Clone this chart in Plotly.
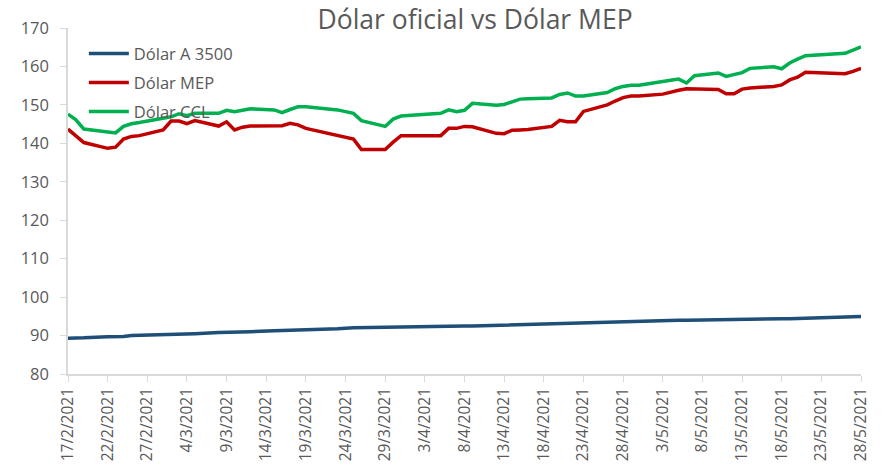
import datetime as dt
import plotly.graph_objects as go

dates = ["2021-02-17","2021-02-18","2021-02-19","2021-02-22","2021-02-23","2021-02-24","2021-02-25","2021-02-26",
         "2021-03-01","2021-03-02","2021-03-03","2021-03-04","2021-03-05","2021-03-08","2021-03-09","2021-03-10",
         "2021-03-11","2021-03-12","2021-03-15","2021-03-16","2021-03-17","2021-03-18","2021-03-19","2021-03-22",
         "2021-03-23","2021-03-25","2021-03-26","2021-03-29","2021-03-30","2021-03-31","2021-04-05","2021-04-06",
         "2021-04-07","2021-04-08","2021-04-09","2021-04-12","2021-04-13","2021-04-14","2021-04-15","2021-04-16",
         "2021-04-19","2021-04-20","2021-04-21","2021-04-22","2021-04-23","2021-04-26","2021-04-27","2021-04-28",
         "2021-04-29","2021-04-30","2021-05-03","2021-05-04","2021-05-05","2021-05-06","2021-05-07","2021-05-10",
         "2021-05-11","2021-05-12","2021-05-13","2021-05-14","2021-05-17","2021-05-18","2021-05-19","2021-05-20",
         "2021-05-21","2021-05-26","2021-05-27","2021-05-28"]

dolar_a3500 = [89.3,89.3,89.4,89.7,89.7,89.75,90.0,90.05,
               90.3,90.4,90.45,90.5,90.5,90.8,90.9,90.95,
               91.0,91.0,91.25,91.3,91.35,91.4,91.65,91.7,
               91.75,92.0,92.05,92.1,92.1,92.15,92.35,92.4,
               92.45,92.5,92.5,92.7,92.75,92.8,92.85,92.9,
               93.1,93.15,93.2,93.25,93.3,93.5,93.55,93.6,
               93.65,93.7,93.9,93.95,94.0,94.0,94.05,94.1,
               94.1,94.15,94.15,94.2,94.35,94.4,94.4,94.45,
               94.45,94.9,94.9,94.95]

dolar_mep = [143.7,141.8,140.2,138.7,139.0,141.1,141.8,142.0,
             143.5,145.8,145.8,145.1,145.9,144.5,145.6,143.5,
             144.2,144.5,144.6,144.6,145.2,144.8,143.9,142.5,
             142.0,141.1,138.4,138.4,140.3,142.0,142.0,143.9,
             143.9,144.4,144.3,142.6,142.5,143.4,143.5,143.6,
             144.4,146.0,145.6,145.6,148.3,150.0,151.0,151.9,
             152.3,152.3,152.8,153.4,153.8,154.2,154.2,154.0,
             152.9,152.9,154.1,154.4,154.8,155.2,156.5,157.2,
             158.5,158.1,158.7,159.5]

dolar_ccl = [147.6,146.1,143.7,142.9,142.7,144.4,145.1,145.4,
             146.5,146.9,147.7,147.2,147.8,147.8,148.6,148.2,
             148.6,149.0,148.7,148.0,148.8,149.5,149.5,149.0,
             148.7,147.8,145.9,144.4,146.3,147.1,147.8,148.7,
             148.2,148.6,150.4,149.9,150.1,150.8,151.5,151.6,
             151.8,152.7,153.1,152.3,152.3,153.2,154.2,154.8,
             155.1,155.1,156.2,156.4,156.7,155.7,157.6,158.3,
             157.4,157.9,158.4,159.5,159.9,159.4,160.9,161.9,
             162.8,163.4,164.3,165.1]

tick_dates = ["2021-02-17","2021-02-22","2021-02-27","2021-03-04","2021-03-09","2021-03-14","2021-03-19",
              "2021-03-24","2021-03-29","2021-04-03","2021-04-08","2021-04-13","2021-04-18","2021-04-23",
              "2021-04-28","2021-05-03","2021-05-08","2021-05-13","2021-05-18","2021-05-23","2021-05-28"]
tick_labels = ["17/2/2021","22/2/2021","27/2/2021","4/3/2021","9/3/2021","14/3/2021","19/3/2021",
               "24/3/2021","29/3/2021","3/4/2021","8/4/2021","13/4/2021","18/4/2021","23/4/2021",
               "28/4/2021","3/5/2021","8/5/2021","13/5/2021","18/5/2021","23/5/2021","28/5/2021"]

series = [("Dólar A 3500", dolar_a3500, "#1F4E79"),
          ("Dólar MEP", dolar_mep, "#C00000"),
          ("Dólar CCL", dolar_ccl, "#00B050")]

fig = go.Figure()
for i, (name, vals, color) in enumerate(series):
    fig.add_trace(go.Scatter(x=dates, y=vals, mode="lines", name=name,
                             legendgroup=f"g{i}",
                             line=dict(color=color, width=3.5)))

grey = "#595959"
axcol = "#D9D9D9"
fig.update_layout(
    width=883, height=473,
    margin=dict(l=68, r=20, t=27.5, b=96),
    paper_bgcolor="white", plot_bgcolor="white",
    font=dict(family="Open Sans, sans-serif", color=grey),
    title=dict(text="Dólar oficial vs Dólar MEP", x=0.538, xanchor="center",
               y=0.958, yanchor="middle", font=dict(size=26.5, color=grey)),
    showlegend=True,
    legend=dict(x=0.02, y=0.976, xanchor="left", yanchor="top",
                font=dict(size=16.5, color=grey), bgcolor="rgba(0,0,0,0)",
                tracegroupgap=4.5, itemwidth=40),
    xaxis=dict(type="date", range=["2021-02-17", "2021-05-28"],
               tickvals=tick_dates, ticktext=tick_labels, tickangle=-90,
               showgrid=False, showline=True, linecolor=axcol, linewidth=1.5,
               ticks="outside", ticklen=6, tickcolor=axcol, ticklabelstandoff=0,
               tickfont=dict(size=15.5, color=grey), zeroline=False),
    yaxis=dict(range=[80, 170], dtick=10, showgrid=False, showline=True,
               linecolor=axcol, linewidth=1.5, ticks="outside", ticklen=6,
               tickcolor=axcol, ticklabelstandoff=8,
               tickfont=dict(size=16.5, color=grey), zeroline=False),
)

fig.write_html("out.html", config={"displayModeBar": False},
               post_script="document.body.style.margin='0';document.body.style.overflow='hidden';")
